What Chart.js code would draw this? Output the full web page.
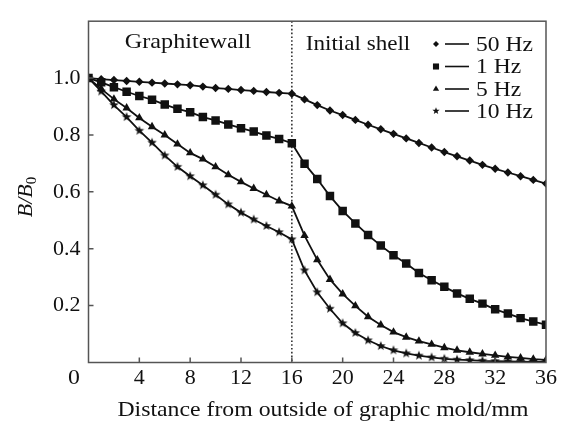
<!DOCTYPE html>
<html><head><meta charset="utf-8">
<script src="https://cdn.jsdelivr.net/npm/chart.js@4/dist/chart.umd.min.js"></script>
<style>html,body{margin:0;padding:0;background:#fff;font-family:"Liberation Serif",serif}#wrap{width:564px;height:425px;position:relative}</style>
</head><body><div id="wrap"><canvas id="c"></canvas></div>
<script>
// Distance from outside of graphite mold (mm)
const distance = [0,1,2,3,4,5,6,7,8,9,10,11,12,13,14,15,16,17,18,19,20,21,22,23,24,25,26,27,28,29,30,31,32,33,34,35,36];
// B/B0 for each frequency
const hz50 = [1.0,0.996,0.993,0.99,0.987,0.984,0.981,0.978,0.975,0.970,0.965,0.962,0.958,0.955,0.951,0.948,0.945,
  0.925,0.905,0.886,0.87,0.853,0.836,0.82,0.804,0.788,0.772,0.756,0.74,0.725,0.71,0.695,0.681,0.668,0.655,0.642,0.629];
const hz1 = [1.0,0.985,0.968,0.952,0.937,0.924,0.907,0.892,0.88,0.863,0.851,0.837,0.824,0.812,0.798,0.786,0.771,
  0.699,0.645,0.585,0.533,0.489,0.448,0.411,0.377,0.348,0.315,0.289,0.266,0.243,0.224,0.207,0.187,0.172,0.156,0.144,0.133];
const hz5 = [1.0,0.962,0.926,0.895,0.86,0.829,0.80,0.768,0.737,0.715,0.688,0.66,0.635,0.612,0.59,0.568,0.55,
  0.446,0.361,0.292,0.241,0.199,0.161,0.132,0.107,0.089,0.075,0.064,0.052,0.043,0.036,0.03,0.025,0.02,0.016,0.012,0.009];
const hz10 = [1.0,0.953,0.905,0.863,0.815,0.773,0.728,0.688,0.655,0.623,0.59,0.556,0.527,0.503,0.48,0.458,0.433,
  0.324,0.247,0.189,0.138,0.104,0.078,0.058,0.043,0.032,0.024,0.018,0.013,0.01,0.008,0.006,0.005,0.004,0.003,0.002,0.002];
const seriesNames = ['50 Hz','1 Hz','5 Hz','10 Hz'];
const xTicks = [4,8,12,16,20,24,28,32,36];
const yTicks = [0.2,0.4,0.6,0.8,1.0];
const regionLabels = ['Graphitewall','Initial shell'];
const boundary = 16;
const xTitle = 'Distance from outside of graphic mold/mm';

const FONT = '"Liberation Serif", serif';
const FS = 22;
const INK = '#111';

function makeStar(outer, inner){
  const s = Math.ceil(outer*2+2);
  const c = document.createElement('canvas'); c.width = s; c.height = s;
  const g = c.getContext('2d'); g.fillStyle = INK; g.beginPath();
  for (let i=0;i<10;i++){ const r = i%2?inner:outer; const a = -Math.PI/2 + i*Math.PI/5;
    g.lineTo(s/2 + r*Math.cos(a), s/2 + r*Math.sin(a)); }
  g.closePath(); g.fill(); return c;
}
const star = makeStar(5, 2.1);
const starSmall = makeStar(3.8, 1.6);

const styles = [
  {pointStyle:'rectRot', radius:4.2, legendRadius:3},
  {pointStyle:'rect', radius:6, legendRadius:4.3},
  {pointStyle:'triangle', radius:4.9, legendRadius:3.6},
  {pointStyle:star, radius:5, legendStyle:starSmall},
];
const values = [hz50, hz1, hz5, hz10];

const datasets = values.map((arr, k) => ({
  label: seriesNames[k],
  data: distance.map((d,i)=>({x:d, y:arr[i]})),
  borderColor: INK, backgroundColor: INK, borderWidth: 1.8,
  pointStyle: styles[k].pointStyle, pointRadius: styles[k].radius,
  pointBorderWidth: 0, pointBackgroundColor: INK, tension: 0
}));

function wideText(ctx, txt, cx, cy, sx){
  ctx.save(); ctx.translate(cx, cy); ctx.scale(sx, 1);
  ctx.textAlign = 'center'; ctx.textBaseline = 'middle'; ctx.fillText(txt, 0, 0); ctx.restore();
}

const deco = {
  id:'deco',
  beforeDatasetsDraw(chart){
    const {ctx, chartArea:a, scales:{x}} = chart;
    const px = x.getPixelForValue(boundary);
    ctx.save(); ctx.strokeStyle = '#333'; ctx.lineWidth = 1.6; ctx.setLineDash([1.6,2.2]);
    ctx.beginPath(); ctx.moveTo(px, a.top); ctx.lineTo(px, a.bottom); ctx.stroke(); ctx.restore();
  },
  afterDraw(chart){
    const {ctx, chartArea:a, scales:{x,y}} = chart;
    ctx.save();
    ctx.strokeStyle = '#555'; ctx.lineWidth = 1.5;
    ctx.strokeRect(a.left, a.top, a.right-a.left, a.bottom-a.top);
    ctx.beginPath();
    xTicks.forEach(v=>{ const p = x.getPixelForValue(v); if (p < a.right-1){ ctx.moveTo(p, a.bottom); ctx.lineTo(p, a.bottom-5);} });
    yTicks.forEach(v=>{ const p = y.getPixelForValue(v); ctx.moveTo(a.left, p); ctx.lineTo(a.left+5, p); });
    ctx.stroke();
    ctx.fillStyle = INK; ctx.font = FS + 'px ' + FONT;
    wideText(ctx, '0', 74, 378, 1.08);
    wideText(ctx, regionLabels[0], 188, 42, 1.1);
    wideText(ctx, regionLabels[1], 358, 44, 1.05);
    wideText(ctx, xTitle, 323, 410, 1.08);
    ctx.save(); ctx.translate(25, 197); ctx.rotate(-Math.PI/2);
    ctx.font = 'italic ' + FS + 'px ' + FONT; ctx.textAlign = 'left'; ctx.textBaseline = 'alphabetic';
    const t = 'B/B'; const w1 = ctx.measureText(t).width;
    ctx.font = '15px ' + FONT; const w2 = ctx.measureText('0').width;
    const start = -(w1+w2)/2;
    ctx.font = 'italic ' + FS + 'px ' + FONT; ctx.fillText(t, start, 7);
    ctx.font = '15px ' + FONT; ctx.fillText('0', start + w1, 11);
    ctx.restore();
    const rows = [44, 66.5, 89, 111];
    rows.forEach((ry, k)=>{
      const st = styles[k];
      if (st.legendStyle){ ctx.drawImage(st.legendStyle, 436 - st.legendStyle.width/2, ry - st.legendStyle.height/2); }
      else { ctx.fillStyle = INK; Chart.helpers.drawPoint(ctx, {pointStyle: st.pointStyle, radius: st.legendRadius, borderWidth:0, rotation:0}, 436, ry); }
      ctx.strokeStyle = INK; ctx.lineWidth = 1.6; ctx.setLineDash([]);
      ctx.beginPath(); ctx.moveTo(445, ry); ctx.lineTo(469, ry); ctx.stroke();
      ctx.fillStyle = INK; ctx.font = FS + 'px ' + FONT;
      ctx.save(); ctx.translate(476, ry + 1); ctx.scale(1.07, 1); ctx.textAlign = 'left'; ctx.textBaseline = 'middle';
      ctx.fillText(seriesNames[k], 0, 0); ctx.restore();
    });
    ctx.restore();
  }
};

function build(){
  new Chart(document.getElementById('c'), {
    type: 'line',
    data: { datasets },
    options: {
      responsive: true, maintainAspectRatio: false, animation: false,
      layout: { padding: { top: 12, right: 18, left: 0, bottom: 0 } },
      plugins: { legend: { display: false }, tooltip: { enabled: false } },
      scales: {
        x: {
          type: 'linear', min: 0, max: 36,
          afterBuildTicks: s => { s.ticks = xTicks.map(v=>({value:v})); },
          afterFit: s => { s.height = 62.5; },
          grid: { display: false, drawTicks: false },
          border: { display: false },
          ticks: { color: INK, font: { family: FONT, size: FS }, padding: 3, maxRotation: 0, autoSkip: false }
        },
        y: {
          type: 'linear', min: 0, max: 1.2,
          afterBuildTicks: s => { s.ticks = yTicks.map(v=>({value:v})); },
          afterFit: s => { s.width = 88.5; },
          grid: { display: false, drawTicks: false },
          border: { display: false },
          ticks: { color: INK, font: { family: FONT, size: FS }, padding: 8, callback: v => Number(v).toFixed(1) }
        }
      }
    },
    plugins: [deco]
  });
}
if (document.fonts && document.fonts.load) {
  Promise.all([document.fonts.load(FS + 'px "Liberation Serif"'), document.fonts.load('italic ' + FS + 'px "Liberation Serif"')])
    .then(build, build);
} else build();
</script></body></html>
